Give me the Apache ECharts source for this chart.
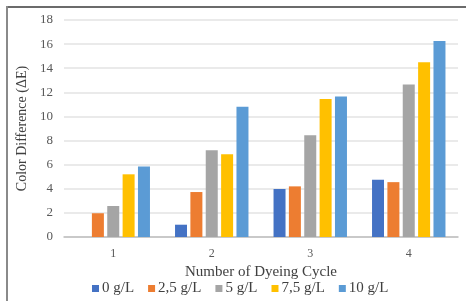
<!DOCTYPE html>
<html>
<head>
<meta charset="utf-8">
<script src="https://cdn.jsdelivr.net/npm/echarts@6/dist/echarts.min.js"></script>
<style>
  html, body { margin: 0; padding: 0; background: #fff; }
  #chart { width: 466px; height: 301px; }
</style>
</head>
<body>
<div id="chart"></div>
<script>
// dyeing cycles on the x axis
const cycles = ['1', '2', '3', '4'];
const seriesNames = ['0 g/L', '2,5 g/L', '5 g/L', '7,5 g/L', '10 g/L'];
const colors = ['#4472C4', '#ED7D31', '#A5A5A5', '#FFC000', '#5B9BD5'];
// color difference (ΔE) per concentration
const conc0 = [0, 1.02, 3.98, 4.75];
const conc25 = [1.97, 3.73, 4.2, 4.55];
const conc5 = [2.57, 7.2, 8.45, 12.65];
const conc75 = [5.2, 6.87, 11.45, 14.5];
const conc10 = [5.85, 10.8, 11.65, 16.25];
const allValues = [conc0, conc25, conc5, conc75, conc10];

const font = '"Liberation Serif", "Times New Roman", serif';

const chart = echarts.init(document.getElementById('chart'), null, { renderer: 'canvas' });

const option = {
  animation: false,
  backgroundColor: '#fff',
  grid: { left: 64, right: 8, top: 20, bottom: 64 },
  legend: {
    data: seriesNames,
    bottom: 5,
    left: 92,
    padding: 0,
    itemWidth: 7,
    itemHeight: 7,
    itemGap: 14,
    icon: 'rect',
    textStyle: { fontFamily: font, fontSize: 15, color: '#404040', padding: [0, 0, 0, -2] }
  },
  xAxis: {
    type: 'category',
    data: cycles,
    name: 'Number of Dyeing Cycle',
    nameLocation: 'middle',
    nameGap: 27,
    nameTextStyle: { fontFamily: font, fontSize: 15, color: '#404040' },
    axisLine: { lineStyle: { color: '#BFBFBF', width: 1.5 } },
    axisTick: { show: false },
    axisLabel: { fontFamily: font, fontSize: 12, color: '#595959', margin: 11 }
  },
  yAxis: {
    type: 'value',
    min: 0,
    max: 18,
    interval: 2,
    name: 'Color Difference (ΔE)',
    nameLocation: 'middle',
    nameGap: 31,
    nameTextStyle: { fontFamily: font, fontSize: 14, color: '#404040' },
    axisLine: { show: false },
    axisTick: { show: false },
    axisLabel: { fontFamily: font, fontSize: 13, color: '#595959', margin: 11 },
    splitLine: { lineStyle: { color: '#E3E3E3', width: 1.5 } }
  },
  series: seriesNames.map((name, i) => ({
    name: name,
    type: 'bar',
    data: allValues[i],
    barWidth: 12,
    barGap: '28%',
    itemStyle: { color: colors[i] }
  })),
  graphic: [
    { type: 'line', shape: { x1: 7, y1: 7, x2: 466, y2: 7 }, style: { stroke: '#6b6b6b', lineWidth: 2 } },
    { type: 'line', shape: { x1: 7, y1: 6, x2: 7, y2: 301 }, style: { stroke: '#8a8a8a', lineWidth: 2 } }
  ]
};

chart.setOption(option);
</script>
</body>
</html>
